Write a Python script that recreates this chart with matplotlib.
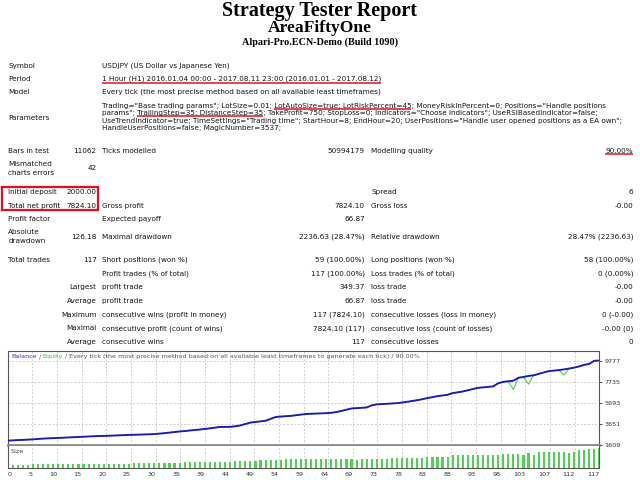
import matplotlib
matplotlib.use("Agg")
import matplotlib.pyplot as plt
from matplotlib.patches import Rectangle
import numpy as np

# ---------------- data ----------------
report_title = "Strategy Tester Report"
expert_name = "AreaFiftyOne"
server_name = "Alpari-Pro.ECN-Demo (Build 1090)"

symbol = "USDJPY (US Dollar vs Japanese Yen)"
period = "1 Hour (H1) 2016.01.04 00:00 - 2017.08.11 23:00 (2016.01.01 - 2017.08.12)"
model = "Every tick (the most precise method based on all available least timeframes)"
parameter_lines = [
    'Trading="Base trading params"; LotSize=0.01; LotAutoSize=true; LotRiskPercent=45; MoneyRiskInPercent=0; Positions="Handle positions',
    'params"; TrailingStep=35; DistanceStep=35; TakeProfit=750; StopLoss=0; Indicators="Choose indicators"; UseRSIBasedIndicator=false;',
    'UseTrendIndicator=true; TimeSettings="Trading time"; StartHour=8; EndHour=20; UserPositions="Handle user opened positions as a EA own";',
    'HandleUserPositions=false; MagicNumber=3537;',
]
underlined_params = [(0, "LotAutoSize=true; LotRiskPercent=45"), (1, "TrailingStep=35; DistanceStep=35")]

bars_in_test = "11062"
ticks_modelled = "50994179"
modelling_quality = "90.00%"
mismatched_errors = "42"
initial_deposit = "2000.00"
spread = "6"
total_net_profit = "7824.10"
gross_profit = "7824.10"
gross_loss = "-0.00"
expected_payoff = "66.87"
absolute_drawdown = "126.18"
maximal_drawdown = "2236.63 (28.47%)"
relative_drawdown = "28.47% (2236.63)"
total_trades = "117"
short_positions = "59 (100.00%)"
long_positions = "58 (100.00%)"

stat_prefix = ["", "Largest", "Average", "Maximum", "Maximal", "Average"]
stat_win_labels = ["Profit trades (% of total)", "profit trade", "profit trade",
                   "consecutive wins (profit in money)", "consecutive profit (count of wins)",
                   "consecutive wins"]
stat_win_values = ["117 (100.00%)", "349.37", "66.87", "117 (7824.10)", "7824.10 (117)", "117"]
stat_loss_labels = ["Loss trades (% of total)", "loss trade", "loss trade",
                    "consecutive losses (loss in money)", "consecutive loss (count of losses)",
                    "consecutive losses"]
stat_loss_values = ["0 (0.00%)", "-0.00", "-0.00", "0 (-0.00)", "-0.00 (0)", "0"]

# balance after each trade (trade 0 = initial deposit)
balance = [2000, 2024, 2048, 2072, 2096, 2122, 2160, 2197, 2218, 2240,
           2262, 2285, 2308, 2331, 2354, 2378, 2402, 2426, 2445, 2455,
           2475, 2495, 2515, 2535, 2555, 2570, 2585, 2600, 2615, 2640,
           2680, 2725, 2780, 2840, 2890, 2935, 2985, 3035, 3080, 3140,
           3200, 3265, 3335, 3340, 3345, 3400, 3480, 3620, 3760, 3820,
           3880, 3940, 4120, 4310, 4350, 4385, 4415, 4480, 4540, 4600,
           4625, 4645, 4660, 4680, 4720, 4790, 4900, 5020, 5140, 5170,
           5205, 5240, 5450, 5540, 5570, 5600, 5630, 5660, 5720, 5790,
           5870, 5950, 6050, 6150, 6250, 6345, 6410, 6480, 6640, 6720,
           6800, 6920, 7040, 7160, 7200, 7250, 7300, 7600, 7740, 7800,
           7850, 8140, 8220, 8320, 8380, 8520, 8660, 8790, 8840, 8890,
           8960, 9040, 9130, 9250, 9400, 9500, 9800, 9824.10]
equity_dip_trades = [100, 103, 110]
equity_dip_values = [7000, 7520, 8400]

# lot size of trades 1..117
lots = [0.07, 0.07, 0.07, 0.07, 0.09, 0.09, 0.09, 0.09, 0.09, 0.09,
        0.09, 0.09, 0.09, 0.09, 0.09, 0.09, 0.09, 0.09, 0.09, 0.10,
        0.10, 0.10, 0.10, 0.10, 0.11, 0.11, 0.11, 0.11, 0.11, 0.12,
        0.12, 0.12, 0.12, 0.12, 0.13, 0.13, 0.13, 0.13, 0.13, 0.14,
        0.14, 0.14, 0.14, 0.14, 0.15, 0.15, 0.15, 0.15, 0.15, 0.17,
        0.17, 0.17, 0.17, 0.17, 0.20, 0.20, 0.20, 0.20, 0.20, 0.20,
        0.20, 0.20, 0.20, 0.20, 0.20, 0.20, 0.20, 0.20, 0.19, 0.21,
        0.21, 0.21, 0.21, 0.21, 0.21, 0.22, 0.22, 0.22, 0.22, 0.22,
        0.22, 0.22, 0.25, 0.25, 0.25, 0.25, 0.25, 0.28, 0.28, 0.28,
        0.28, 0.28, 0.30, 0.30, 0.30, 0.30, 0.30, 0.31, 0.31, 0.31,
        0.31, 0.28, 0.34, 0.30, 0.35, 0.35, 0.35, 0.36, 0.36, 0.36,
        0.34, 0.36, 0.39, 0.40, 0.41, 0.42, 0.44]

x_tick_labels = ["0", "5", "10", "15", "20", "25", "30", "35", "39", "44", "49", "54",
                 "59", "64", "69", "73", "78", "83", "88", "93", "98", "103", "107", "112", "117"]
y_tick_values = [1609, 3651, 5693, 7735, 9777]

caption_pieces = ["Balance", "/", "Equity",
                  "/ Every tick (the most precise method based on all available least timeframes to generate each tick) / 90.00%"]
caption_seps = [" ", " ", " "]
caption_colors = ["#3838c8", "#555555", "#34c034", "#555555"]

# ---------------- style ----------------
W, H = 640, 480
BODY = "DejaVu Sans"
SERIF = "Liberation Serif"
TXT = "#141414"
RED = "#e3101c"
BAL = "#1c1cb4"
EQ = "#46d246"
BARC = "#52d052"
GRID = "#c4c4c4"

fig = plt.figure(figsize=(6.4, 4.8), dpi=100)
fig.patch.set_facecolor("white")
bg = fig.add_axes([0, 0, 1, 1])
bg.set_xlim(0, W)
bg.set_ylim(H, 0)
bg.axis("off")
bg.patch.set_visible(False)
bg.set_zorder(10)

fig.canvas.draw()
rend = fig.canvas.get_renderer()


def width_px(s, size, **kw):
    t = bg.text(0, 0, s, fontsize=size, **kw)
    w = t.get_window_extent(rend).width
    t.remove()
    return w


full_caption = caption_pieces[0]
for sep, p in zip(caption_seps, caption_pieces[1:]):
    full_caption += sep + p

FS = 10 * 508 / width_px(parameter_lines[0], 10, family=BODY)
CAP = 10 * 405 / width_px(full_caption, 10, family=BODY)


def T(x, y, s, ha="left", size=None, color=TXT, family=BODY, **kw):
    return bg.text(x, y, s, ha=ha, va="center", fontsize=size or FS, color=color,
                   family=family, **kw)


# ---------------- header ----------------
for s, target, y in [(report_title, 196, 10.6), (expert_name, 104, 27.6), (server_name, 156, 41.8)]:
    sz = 10 * target / width_px(s, 10, family=SERIF, weight="bold")
    T(320, y, s, ha="center", size=sz, family=SERIF, weight="bold", color="black")

XL, XV1, XL2, XV2, XL3, XV3 = 8.2, 96.7, 101.6, 364.8, 371, 633

T(XL, 65.7, "Symbol"); T(XL2, 65.7, symbol)
T(XL, 79, "Period"); T(XL2, 79, period)
T(XL, 92, "Model"); T(XL2, 92, model)
T(XL, 118, "Parameters")
param_y = [106, 113.4, 120.8, 128.2]
for ln, y in zip(parameter_lines, param_y):
    T(XL2, y, ln)

# underlines
ul_lw = 1.1
wp = width_px(period, FS, family=BODY)
bg.plot([XL2, XL2 + wp], [82.6, 82.6], color=RED, lw=ul_lw, solid_capstyle="butt")
for li, sub in underlined_params:
    line = parameter_lines[li]
    i = line.index(sub)
    x_end = XL2 + width_px(line[:i + len(sub)], FS, family=BODY)
    x_start = x_end - width_px(sub, FS, family=BODY)
    yy = param_y[li] + 3.0
    bg.plot([x_start, x_end], [yy, yy], color=RED, lw=ul_lw, solid_capstyle="butt")

# ---------------- statistics ----------------
y = 150.7
T(XL, y, "Bars in test"); T(XV1, y, bars_in_test, ha="right")
T(XL2, y, "Ticks modelled"); T(XV2, y, ticks_modelled, ha="right")
T(XL3, y, "Modelling quality"); T(XV3, y, modelling_quality, ha="right")
wq = width_px(modelling_quality, FS, family=BODY)
bg.plot([XV3 - wq, XV3], [154.2, 154.2], color=RED, lw=ul_lw, solid_capstyle="butt")

T(XL, 164, "Mismatched"); T(XL, 173.3, "charts errors"); T(XV1, 168.5, mismatched_errors, ha="right")

y = 192.3
T(XL, y, "Initial deposit"); T(XV1, y, initial_deposit, ha="right")
T(XL3, y, "Spread"); T(XV3, y, spread, ha="right")
y = 205.6
T(XL, y, "Total net profit"); T(XV1, y, total_net_profit, ha="right")
T(XL2, y, "Gross profit"); T(XV2, y, gross_profit, ha="right")
T(XL3, y, "Gross loss"); T(XV3, y, gross_loss, ha="right")
bg.add_patch(Rectangle((1.8, 186.6), 95.8, 23.4, fill=False, edgecolor=RED, lw=1.6))

y = 219.3
T(XL, y, "Profit factor"); T(XL2, y, "Expected payoff"); T(XV2, y, expected_payoff, ha="right")
T(XL, 232.4, "Absolute"); T(XL, 240.6, "drawdown")
y = 237.2
T(XV1, y, absolute_drawdown, ha="right")
T(XL2, y, "Maximal drawdown"); T(XV2, y, maximal_drawdown, ha="right")
T(XL3, y, "Relative drawdown"); T(XV3, y, relative_drawdown, ha="right")
y = 260
T(XL, y, "Total trades"); T(XV1, y, total_trades, ha="right")
T(XL2, y, "Short positions (won %)"); T(XV2, y, short_positions, ha="right")
T(XL3, y, "Long positions (won %)"); T(XV3, y, long_positions, ha="right")

stat_y = [273.6, 287.4, 301.0, 314.8, 328.4, 341.8]
for yy, p, wl, wv, ll, lv in zip(stat_y, stat_prefix, stat_win_labels, stat_win_values,
                                 stat_loss_labels, stat_loss_values):
    if p:
        T(XV1, yy, p, ha="right")
    T(XL2, yy, wl); T(XV2, yy, wv, ha="right")
    T(XL3, yy, ll); T(XV3, yy, lv, ha="right")


# ---------------- chart ----------------
def rect(x0, y0, x1, y1):
    return [x0 / W, 1 - y1 / H, (x1 - x0) / W, (y1 - y0) / H]


n_trades = len(balance) - 1
grid_x = np.linspace(0, n_trades, len(x_tick_labels))
trades = np.arange(len(balance))
equity = list(balance)
for t, v in zip(equity_dip_trades, equity_dip_values):
    equity[t] = v

ax = fig.add_axes(rect(7.7, 351, 599.3, 444.6))
ax.plot(trades, equity, color=EQ, lw=0.8, zorder=3)
ax.plot(trades, balance, color=BAL, lw=1.35, zorder=4, solid_joinstyle="round")
ax.set_xlim(0, n_trades)
ax.set_ylim(1609, 10758)
ax.set_xticks(grid_x)
ax.set_yticks(y_tick_values)
ax.set_yticklabels([str(v) for v in y_tick_values])
ax.grid(True, ls=(0, (2.2, 2.2)), color=GRID, lw=0.6)
ax.tick_params(axis="x", length=0, labelbottom=False)
ax.yaxis.tick_right()
ax.tick_params(axis="y", length=2, width=0.6, labelsize=4.6, pad=1.5, colors="#333333")
for side in ["left", "top", "right"]:
    ax.spines[side].set_color("#555555")
    ax.spines[side].set_linewidth(0.8)
ax.spines["bottom"].set_color("#8a8a8a")
ax.spines["bottom"].set_linewidth(2.0)

ax2 = fig.add_axes(rect(7.7, 445.8, 599.3, 468.3))
ax2.bar(np.arange(1, len(lots) + 1), lots, width=0.42, color=BARC, zorder=3)
ax2.set_xlim(0, n_trades)
ax2.set_ylim(0, 0.49)
ax2.set_yticks([])
ax2.set_xticks(grid_x)
ax2.set_xticklabels(x_tick_labels)
ax2.grid(True, axis="x", ls=(0, (2.2, 2.2)), color=GRID, lw=0.6)
ax2.tick_params(axis="x", length=0, labelsize=4.6, pad=2.5, colors="#333333")
for i, lab in enumerate(ax2.get_xticklabels()):
    lab.set_ha("left" if i == 0 else "right")
for side in ["left", "bottom", "right"]:
    ax2.spines[side].set_color("#555555")
    ax2.spines[side].set_linewidth(0.8)
ax2.spines["top"].set_visible(False)

# chart captions: each piece placed where it sits inside the full caption string
cx0, cy = 11, 356.6
prefix = ""
for k, (piece, col) in enumerate(zip(caption_pieces, caption_colors)):
    if k > 0:
        prefix += caption_seps[k - 1]
    prefix += piece
    x_end = cx0 + width_px(prefix, CAP, family=BODY)
    x_start = x_end - width_px(piece, CAP, family=BODY)
    T(x_start, cy, piece, size=CAP, color=col)
T(11, 451.8, "Size", size=CAP, color="#444444")

fig.savefig("out.png", dpi=100, facecolor="white")
